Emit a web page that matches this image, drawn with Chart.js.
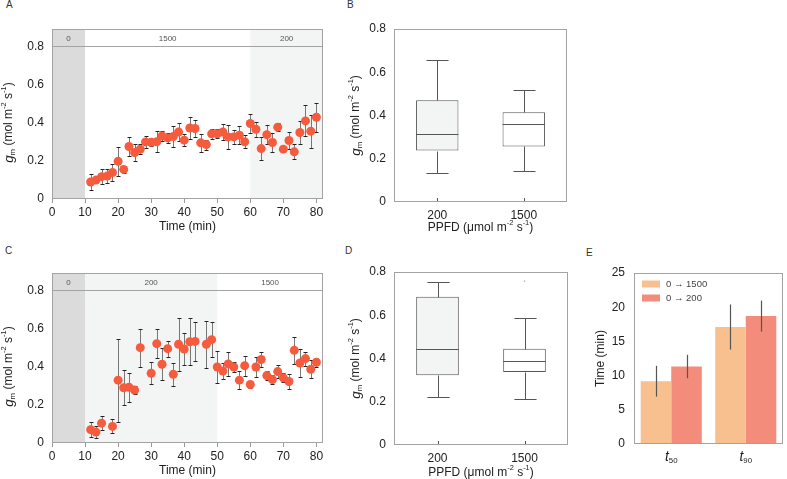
<!DOCTYPE html>
<html><head><meta charset="utf-8">
<script src="https://cdn.jsdelivr.net/npm/chart.js@4.4.1/dist/chart.umd.min.js"></script>
<style>
body{margin:0;background:#fff;width:787px;height:479px;position:relative;overflow:hidden;font-family:"Liberation Sans",Arial,sans-serif}
canvas{position:absolute}
.lbl{position:absolute;font-size:10px;line-height:10px;color:#333}
</style></head><body>
<div class="lbl" style="left:6px;top:0px">A</div>
<div class="lbl" style="left:347px;top:0px">B</div>
<div class="lbl" style="left:5px;top:246px">C</div>
<div class="lbl" style="left:345px;top:246px">D</div>
<div class="lbl" style="left:586px;top:248px">E</div>
<canvas id="cA" width="340" height="235" style="left:0;top:0"></canvas>
<canvas id="cB" width="247" height="235" style="left:340px;top:0"></canvas>
<canvas id="cC" width="340" height="239" style="left:0;top:240px"></canvas>
<canvas id="cD" width="247" height="239" style="left:340px;top:240px"></canvas>
<canvas id="cE" width="207" height="239" style="left:580px;top:240px"></canvas>
<script>
// ---------------- DATA ----------------
const xTicksTime = [0,10,20,30,40,50,60,70,80];
const yTicksGm = [0,0.2,0.4,0.6,0.8];
const yTicksMin = [0,5,10,15,20,25];

// Panel A: 0 -> 1500 -> 200
const timeA = [11.7,13.3,15.0,16.7,18.3,20.0,21.7,23.3,25.0,26.7,28.3,30.0,31.7,33.3,35.0,36.7,38.3,40.0,41.7,43.3,45.0,46.7,48.3,50.0,51.7,53.3,55.0,56.7,58.3,60.0,61.7,63.3,65.0,66.7,68.3,70.0,71.7,73.3,75.0,76.7,78.3,80.0];
const gmA = [0.089,0.099,0.117,0.120,0.139,0.197,0.155,0.275,0.243,0.261,0.299,0.297,0.300,0.330,0.320,0.327,0.351,0.308,0.372,0.369,0.294,0.285,0.341,0.341,0.351,0.325,0.325,0.334,0.300,0.395,0.365,0.264,0.337,0.296,0.376,0.261,0.306,0.247,0.348,0.409,0.355,0.428];
const errA = [0.043,0.004,0.040,0.035,0.043,0.076,0.020,0.050,0.043,0.025,0.030,0.017,0.055,0.028,0.025,0.055,0.045,0.030,0.057,0.043,0.048,0.026,0.028,0.024,0.044,0.062,0.037,0.047,0.035,0.048,0.040,0.059,0.050,0.052,0.022,0.004,0.044,0.039,0.059,0.081,0.086,0.075];
const phaseStartA = [0,10,60];
const phaseEndA = [10,60,82];
const phasePpfdA = ['0','1500','200'];

// Panel C: 0 -> 200 -> 1500
const timeC = [11.7,13.3,15.0,18.3,20.0,21.7,23.3,25.0,26.7,30.0,31.7,33.3,35.0,36.7,38.3,40.0,41.7,43.3,46.7,48.3,50.0,51.7,53.3,55.0,56.7,58.3,60.0,61.7,63.3,65.0,66.7,68.3,70.0,71.7,73.3,75.0,76.7,78.3,80.0];
const gmC = [0.070,0.057,0.104,0.087,0.329,0.289,0.292,0.277,0.499,0.365,0.520,0.412,0.494,0.360,0.517,0.492,0.530,0.532,0.517,0.541,0.398,0.377,0.414,0.398,0.329,0.405,0.306,0.398,0.437,0.353,0.332,0.374,0.341,0.322,0.485,0.419,0.442,0.386,0.423];
const errC = [0.040,0.030,0.037,0.037,0.217,0.092,0.077,0.022,0.100,0.058,0.075,0.083,0.042,0.060,0.140,0.083,0.123,0.103,0.122,0.090,0.083,0.041,0.061,0.025,0.046,0.052,0.019,0.050,0.038,0.024,0.022,0.032,0.023,0.038,0.072,0.072,0.037,0.046,0.024];
const phaseStartC = [0,10,50];
const phaseEndC = [10,50,82];
const phasePpfdC = ['0','200','1500'];

// Panels B and D: box plots by PPFD
const boxCats = ['200','1500'];
const minB = [0.133,0.144], q1B = [0.238,0.257], medB = [0.316,0.361], q3B = [0.471,0.415], maxB = [0.658,0.517];
const minD = [0.220,0.211], q1D = [0.322,0.337], medD = [0.443,0.389], q3D = [0.686,0.445], maxD = [0.755,0.589];
const outD = [[],[0.758]];

// Panel E: t50 / t90
const eCats = ['t50','t90'];
const e1500 = [9.18,17.1], e1500err = [2.25,3.3];
const e200 = [11.33,18.7], e200err = [1.71,2.27];
const eLabels = ['0 \u2192 1500','0 \u2192 200'];

// ---------------- STYLE / HELPERS ----------------
const FONT = '"Liberation Sans", Arial, sans-serif';
const INK = '#222';
const FRAME = '#a3a3a3';
const DARK = '#dadbda';
const LIGHT = '#f3f5f4';
const PT = '#f75b3d';
const C1500 = '#f8c08f';
const C200 = '#f38c7a';

function fnt(size, it){ return (it?'italic ':'') + size + 'px ' + FONT; }
function drawRich(ctx, parts, x, y, size, rot, color){
  ctx.save(); ctx.translate(x,y); if(rot) ctx.rotate(rot);
  ctx.textBaseline='middle'; ctx.textAlign='left'; ctx.fillStyle=color||INK;
  const ws=[]; let w=0;
  parts.forEach(p=>{ctx.font=fnt(size*(p.s||1),p.i); const m=ctx.measureText(p.t).width; ws.push(m); w+=m;});
  let cx=-w/2;
  parts.forEach((p,k)=>{ctx.font=fnt(size*(p.s||1),p.i); ctx.fillText(p.t,cx,(p.dy||0)*size); cx+=ws[k];});
  ctx.restore();
}
const SUP = s=>({t:s,s:0.62,dy:-0.38});
const SUB = s=>({t:s,s:0.65,dy:0.3});
const gmTitle = [{t:'g',i:true,s:1.12},SUB('m'),{t:' (mol m'},SUP('-2'),{t:' s'},SUP('-1'),{t:')'}];
const ppfdTitle = [{t:'PPFD (\u03bcmol m'},SUP('-2'),{t:' s'},SUP('-1'),{t:')'}];
const timeTitle = [{t:'Time (min)'}];

const fmtGm = v => v===0 ? '0' : v.toFixed(1);
const tickFont = {family:FONT,size:12};

function titlesPlugin(cfg){
  return {id:'titles', afterDraw(chart){
    const ctx=chart.ctx, ca=chart.chartArea, ys=chart.scales.y;
    if(cfg.yParts){
      const yc=(ys.getPixelForValue(cfg.yRange[0])+ys.getPixelForValue(cfg.yRange[1]))/2;
      drawRich(ctx,cfg.yParts,cfg.yX,yc,12,-Math.PI/2);
    }
    if(cfg.xParts){ drawRich(ctx,cfg.xParts,(ca.left+ca.right)/2,ca.bottom+cfg.xDy,12,0); }
  }};
}
const framePlugin = {id:'frame', afterDraw(chart){
  const {ctx,chartArea:ca}=chart; ctx.save(); ctx.strokeStyle=FRAME; ctx.lineWidth=1;
  ctx.strokeRect(ca.left+0.5,ca.top+0.5,ca.right-ca.left-1,ca.bottom-ca.top-1); ctx.restore();
}};
function phasePlugin(starts,ends,ppfd,bandFrom){
  return {id:'phases', beforeDatasetsDraw(chart){
    const {ctx,chartArea:ca,scales:{x,y}}=chart; ctx.save();
    const yb=Math.round(y.getPixelForValue(bandFrom))+0.5;
    starts.forEach((s,i)=>{
      const x0=Math.max(ca.left,x.getPixelForValue(s)), x1=Math.min(ca.right,x.getPixelForValue(ends[i]));
      const c = ppfd[i]==='0'?DARK:(ppfd[i]==='200'?LIGHT:null);
      if(c){ctx.fillStyle=c; ctx.fillRect(x0,ca.top,x1-x0,ca.bottom-ca.top);}
      ctx.fillStyle='#555'; ctx.font=fnt(8); ctx.textAlign='center'; ctx.textBaseline='middle';
      ctx.fillText(ppfd[i],(x0+x1)/2,(ca.top+yb)/2+1);
    });
    ctx.strokeStyle=FRAME; ctx.lineWidth=1; ctx.beginPath(); ctx.moveTo(ca.left,yb); ctx.lineTo(ca.right,yb); ctx.stroke();
    ctx.restore();
  }};
}
function errPlugin(times,vals,errs){
  return {id:'err', beforeDatasetsDraw(chart){
    const {ctx,scales:{x,y}}=chart; ctx.save(); ctx.lineWidth=1;
    times.forEach((t,i)=>{
      const px=Math.round(x.getPixelForValue(t))+0.5;
      const y0=Math.round(y.getPixelForValue(vals[i]-errs[i]))+0.5, y1=Math.round(y.getPixelForValue(vals[i]+errs[i]))+0.5;
      ctx.strokeStyle='#777'; ctx.beginPath(); ctx.moveTo(px,y0); ctx.lineTo(px,y1); ctx.stroke();
      ctx.strokeStyle='#222'; ctx.beginPath(); ctx.moveTo(px-2,y0); ctx.lineTo(px+2,y0); ctx.moveTo(px-2,y1); ctx.lineTo(px+2,y1); ctx.stroke();
    });
    ctx.restore();
  }};
}
function boxPlugin(mins,q1,meds,q3,maxs,outs){
  return {id:'box', afterDatasetsDraw(chart){
    const meta=chart.getDatasetMeta(0), y=chart.scales.y, ctx=chart.ctx, ca=chart.chartArea;
    ctx.save(); ctx.strokeStyle='#555'; ctx.lineWidth=1;
    meta.data.forEach((bar,i)=>{
      const p=bar.getProps(['x','width'],true);
      const px=Math.round(p.x)+0.5, hw=p.width/2, cw=p.width*0.26;
      const py=v=>Math.round(y.getPixelForValue(v))+0.5;
      ctx.beginPath();
      ctx.moveTo(p.x-hw,py(meds[i])); ctx.lineTo(p.x+hw,py(meds[i]));
      ctx.moveTo(px,py(q3[i])); ctx.lineTo(px,py(maxs[i])); ctx.moveTo(px-cw,py(maxs[i])); ctx.lineTo(px+cw,py(maxs[i]));
      ctx.moveTo(px,py(q1[i])); ctx.lineTo(px,py(mins[i])); ctx.moveTo(px-cw,py(mins[i])); ctx.lineTo(px+cw,py(mins[i]));
      ctx.moveTo(px,ca.bottom); ctx.lineTo(px,ca.bottom-4);
      ctx.stroke();
      if(outs){ outs[i].forEach(v=>{ctx.fillStyle='#bbb'; ctx.beginPath(); ctx.arc(p.x,y.getPixelForValue(v),0.9,0,Math.PI*2); ctx.fill();}); }
    });
    ctx.restore();
  }};
}
function fixAxis(w,h){ return scale=>{ if(w!=null) scale.width=w; if(h!=null) scale.height=h; }; }
function setTicks(arr){ return scale=>{ scale.ticks = arr.map(v=>({value:v})); }; }

const base = {responsive:false, animation:false, devicePixelRatio:1,
  plugins:{legend:{display:false}, tooltip:{enabled:false}}};

// ---------------- TIME COURSE CHARTS ----------------
function timeChart(id,times,vals,errs,starts,ends,ppfd,pad,yW,xH){
  return new Chart(document.getElementById(id),{
    type:'scatter',
    data:{datasets:[{data:times.map((t,i)=>({x:t,y:vals[i]})),backgroundColor:PT,borderWidth:0,pointRadius:4.5,pointHoverRadius:4.5}]},
    options:{...base, layout:{padding:pad},
      scales:{
        x:{type:'linear',min:0,max:82,afterBuildTicks:setTicks(xTicksTime),afterFit:fixAxis(null,xH),
           grid:{display:true,drawOnChartArea:false,drawTicks:true,tickLength:4,color:'#999'},border:{display:false},
           ticks:{font:tickFont,color:INK,padding:2,maxRotation:0}},
        y:{min:0,max:0.89,afterBuildTicks:setTicks(yTicksGm),afterFit:fixAxis(yW,null),
           grid:{display:false,drawTicks:false},border:{display:false},
           ticks:{font:tickFont,color:INK,padding:8,callback:fmtGm}}
      }},
    plugins:[phasePlugin(starts,ends,ppfd,0.8),errPlugin(times,vals,errs),framePlugin,
      titlesPlugin({yParts:gmTitle,yX:9,yRange:[0,0.8],xParts:timeTitle,xDy:28})]
  });
}
timeChart('cA',timeA,gmA,errA,phaseStartA,phaseEndA,phasePpfdA,{top:29,right:17,left:0,bottom:0},52,36);
timeChart('cC',timeC,gmC,errC,phaseStartC,phaseEndC,phasePpfdC,{top:33,right:17,left:0,bottom:0},52,36);

// ---------------- BOX CHARTS ----------------
function boxChart(id,mins,q1,meds,q3,maxs,outs,pad,yW,xH,xDy){
  return new Chart(document.getElementById(id),{
    type:'bar',
    data:{labels:boxCats,datasets:[{data:q1.map((v,i)=>[v,q3[i]]),backgroundColor:[LIGHT,'#ffffff'],borderColor:'#555',borderWidth:1,borderSkipped:false,barPercentage:0.49,categoryPercentage:1}]},
    options:{...base, layout:{padding:pad},
      scales:{
        x:{afterFit:fixAxis(null,xH),grid:{display:false,drawTicks:false},border:{display:false},
           ticks:{font:tickFont,color:INK,padding:6}},
        y:{min:0,max:0.8,afterBuildTicks:setTicks(yTicksGm),afterFit:fixAxis(yW,null),
           grid:{display:false,drawTicks:false},border:{display:false},
           ticks:{font:tickFont,color:INK,padding:8,callback:fmtGm}}
      }},
    plugins:[boxPlugin(mins,q1,meds,q3,maxs,outs),framePlugin,
      titlesPlugin({yParts:gmTitle,yX:16,yRange:[0,0.8],xParts:ppfdTitle,xDy:xDy})]
  });
}
boxChart('cB',minB,q1B,medB,q3B,maxB,null,{top:29,right:20,left:0,bottom:0},54,33,26);
boxChart('cD',minD,q1D,medD,q3D,maxD,outD,{top:32,right:19,left:0,bottom:0},54,34,28);

// ---------------- BAR CHART E ----------------
const eErrPlugin = {id:'eerr', afterDatasetsDraw(chart){
  const ctx=chart.ctx, y=chart.scales.y; const vals=[e1500,e200], errs=[e1500err,e200err];
  ctx.save(); ctx.strokeStyle='#555'; ctx.lineWidth=1.2;
  chart.data.datasets.forEach((ds,d)=>{
    chart.getDatasetMeta(d).data.forEach((bar,i)=>{
      const px=Math.round(bar.x)+0.5;
      ctx.beginPath(); ctx.moveTo(px,y.getPixelForValue(vals[d][i]-errs[d][i])); ctx.lineTo(px,y.getPixelForValue(vals[d][i]+errs[d][i])); ctx.stroke();
    });
  });
  ctx.restore();
}};
const eLegendPlugin = {id:'elegend', afterDraw(chart){
  const ctx=chart.ctx, ca=chart.chartArea; ctx.save();
  chart.data.datasets.forEach((ds,d)=>{
    const yc=ca.top+11+d*14;
    ctx.fillStyle=ds.backgroundColor; ctx.fillRect(ca.left+8,yc-3.5,18,7);
    ctx.fillStyle='#444'; ctx.font=fnt(9.5); ctx.textBaseline='middle'; ctx.textAlign='left';
    ctx.fillText(ds.label,ca.left+32,yc+0.5);
  });
  ctx.restore();
}};
const eTickPlugin = {id:'eticks', afterDraw(chart){
  const ctx=chart.ctx, x=chart.scales.x, ca=chart.chartArea;
  chart.data.labels.forEach((lab,i)=>{
    drawRich(ctx,[{t:lab.charAt(0),i:true,s:1.15},SUB(lab.slice(1))],x.getPixelForValue(i),ca.bottom+13,12,0);
  });
}};
new Chart(document.getElementById('cE'),{
  type:'bar',
  data:{labels:eCats,datasets:[
    {label:eLabels[0],data:e1500,backgroundColor:C1500,borderWidth:0,categoryPercentage:0.82,barPercentage:1},
    {label:eLabels[1],data:e200,backgroundColor:C200,borderWidth:0,categoryPercentage:0.82,barPercentage:1}]},
  options:{...base, layout:{padding:{top:33,right:4,left:0,bottom:0}},
    scales:{
      x:{afterFit:fixAxis(null,35),grid:{display:false,drawTicks:false},border:{display:false},ticks:{display:false}},
      y:{min:0,max:25,afterBuildTicks:setTicks(yTicksMin),afterFit:fixAxis(54,null),
         grid:{display:false,drawTicks:false},border:{display:false},
         ticks:{font:tickFont,color:INK,padding:9}}
    }},
  plugins:[eErrPlugin,framePlugin,eLegendPlugin,eTickPlugin,
    titlesPlugin({yParts:timeTitle,yX:21,yRange:[0,25]})]
});
</script>
</body></html>
